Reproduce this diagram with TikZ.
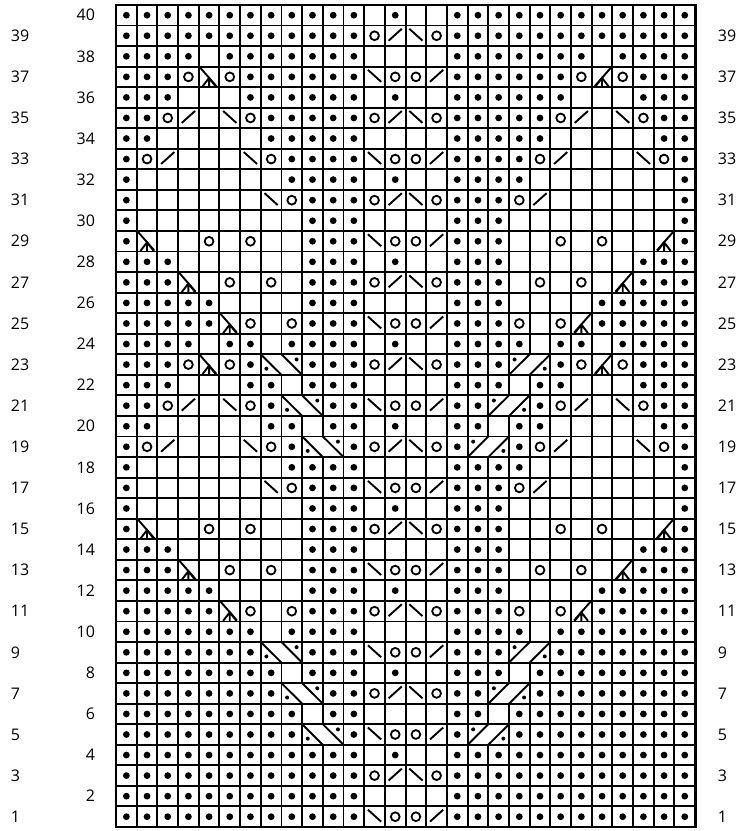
\documentclass[tikz,border=0pt]{standalone}
\usepackage{fontspec}
\setmainfont{Open Sans}
\usepackage{tikz}

\begin{document}
\begin{tikzpicture}[x=20.68pt,y=20.55pt,line width=1.9pt,
  every node/.style={font=\fontsize{16}{18}\selectfont,inner sep=0pt},
  pics/kbox/.style={code={\draw (0,0) rectangle (1,1);}},
  pics/ke/.style={code={\pic {kbox};}},
  pics/kx/.style={code={}},
  pics/kp/.style={code={\pic {kbox}; \fill (0.5,0.5) circle (3.4pt);}},
  pics/ko/.style={code={\pic {kbox}; \draw[line width=1.8pt] (0.5,0.5) circle (4.4pt);}},
  pics/kl/.style={code={\pic {kbox}; \draw (0.18,0.26) -- (0.82,0.84);}},
  pics/kr/.style={code={\pic {kbox}; \draw (0.18,0.84) -- (0.82,0.26);}},
  pics/ka/.style={code={\pic {kbox}; \draw (0.05,0.97) -- (0.85,0.05);
      \draw (0.18,0.03) -- (0.5,0.45) -- (0.82,0.03) (0.5,0.45) -- (0.5,0.03);}},
  pics/kb/.style={code={\pic {kbox}; \draw (0.95,0.97) -- (0.15,0.05);
      \draw (0.18,0.03) -- (0.5,0.45) -- (0.82,0.03) (0.5,0.45) -- (0.5,0.03);}},
  pics/kc/.style={code={\draw (0,0) rectangle (2,1); \draw (0,1) -- (1,0) (1,1) -- (2,0);
      \fill (0.27,0.3) circle (2pt) (1.73,0.75) circle (2pt);}},
  pics/kd/.style={code={\draw (0,0) rectangle (2,1); \draw (0,0) -- (1,1) (1,0) -- (2,1);
      \fill (0.27,0.75) circle (2pt) (1.73,0.3) circle (2pt);}}]
  \useasboundingbox (-5.61,-0.195) rectangle (30.75,40.24);
  \foreach \r/\row in {
    40/{p,p,p,p,p,p,p,p,p,p,p,p,e,p,e,e,p,p,p,p,p,p,p,p,p,p,p,p},
    39/{p,p,p,p,p,p,p,p,p,p,p,p,o,l,r,o,p,p,p,p,p,p,p,p,p,p,p,p},
    38/{p,p,p,p,e,p,p,p,p,p,p,p,e,e,e,e,p,p,p,p,p,p,p,e,p,p,p,p},
    37/{p,p,p,o,a,o,p,p,p,p,p,p,r,o,o,l,p,p,p,p,p,p,o,b,o,p,p,p},
    36/{p,p,p,e,e,e,p,p,p,p,p,p,e,p,e,e,p,p,p,p,p,p,e,e,e,p,p,p},
    35/{p,p,o,l,e,r,o,p,p,p,p,p,o,l,r,o,p,p,p,p,p,o,l,e,r,o,p,p},
    34/{p,p,e,e,e,e,e,p,p,p,p,p,e,e,e,e,p,p,p,p,p,e,e,e,e,e,p,p},
    33/{p,o,l,e,e,e,r,o,p,p,p,p,r,o,o,l,p,p,p,p,o,l,e,e,e,r,o,p},
    32/{p,e,e,e,e,e,e,e,p,p,p,p,e,p,e,e,p,p,p,p,e,e,e,e,e,e,e,p},
    31/{p,e,e,e,e,e,e,r,o,p,p,p,o,l,r,o,p,p,p,o,l,e,e,e,e,e,e,p},
    30/{p,e,e,e,e,e,e,e,e,p,p,p,e,e,e,e,p,p,p,e,e,e,e,e,e,e,e,p},
    29/{p,a,e,e,o,e,o,e,e,p,p,p,r,o,o,l,p,p,p,e,e,o,e,o,e,e,b,p},
    28/{p,p,p,e,e,e,e,e,e,p,p,p,e,p,e,e,p,p,p,e,e,e,e,e,e,p,p,p},
    27/{p,p,p,a,e,o,e,o,e,p,p,p,o,l,r,o,p,p,p,e,o,e,o,e,b,p,p,p},
    26/{p,p,p,p,p,e,e,e,e,p,p,p,e,e,e,e,p,p,p,e,e,e,e,p,p,p,p,p},
    25/{p,p,p,p,p,a,o,e,o,p,p,p,r,o,o,l,p,p,p,o,e,o,b,p,p,p,p,p},
    24/{p,p,p,p,e,p,p,e,p,p,p,p,e,p,e,e,p,p,p,p,e,p,p,e,p,p,p,p},
    23/{p,p,p,o,a,o,p,c,x,p,p,p,o,l,r,o,p,p,p,d,x,p,o,b,o,p,p,p},
    22/{p,p,p,e,e,e,p,p,e,p,p,p,e,e,e,e,p,p,p,e,p,p,e,e,e,p,p,p},
    21/{p,p,o,l,e,r,o,p,c,x,p,p,r,o,o,l,p,p,d,x,p,o,l,e,r,o,p,p},
    20/{p,p,e,e,e,e,e,p,p,e,p,p,e,p,e,e,p,p,e,p,p,e,e,e,e,e,p,p},
    19/{p,o,l,e,e,e,r,o,p,c,x,p,o,l,r,o,p,d,x,p,o,l,e,e,e,r,o,p},
    18/{p,e,e,e,e,e,e,e,p,p,p,p,e,e,e,e,p,p,p,p,e,e,e,e,e,e,e,p},
    17/{p,e,e,e,e,e,e,r,o,p,p,p,r,o,o,l,p,p,p,o,l,e,e,e,e,e,e,p},
    16/{p,e,e,e,e,e,e,e,e,p,p,p,e,p,e,e,p,p,p,e,e,e,e,e,e,e,e,p},
    15/{p,a,e,e,o,e,o,e,e,p,p,p,o,l,r,o,p,p,p,e,e,o,e,o,e,e,b,p},
    14/{p,p,p,e,e,e,e,e,e,p,p,p,e,e,e,e,p,p,p,e,e,e,e,e,e,p,p,p},
    13/{p,p,p,a,e,o,e,o,e,p,p,p,r,o,o,l,p,p,p,e,o,e,o,e,b,p,p,p},
    12/{p,p,p,p,p,e,e,e,e,p,p,p,e,p,e,e,p,p,p,e,e,e,e,p,p,p,p,p},
    11/{p,p,p,p,p,a,o,e,o,p,p,p,o,l,r,o,p,p,p,o,e,o,b,p,p,p,p,p},
    10/{p,p,p,p,p,p,p,e,p,p,p,p,e,e,e,e,p,p,p,p,e,p,p,p,p,p,p,p},
    9/{p,p,p,p,p,p,p,c,x,p,p,p,r,o,o,l,p,p,p,d,x,p,p,p,p,p,p,p},
    8/{p,p,p,p,p,p,p,p,e,p,p,p,e,p,e,e,p,p,p,e,p,p,p,p,p,p,p,p},
    7/{p,p,p,p,p,p,p,p,c,x,p,p,o,l,r,o,p,p,d,x,p,p,p,p,p,p,p,p},
    6/{p,p,p,p,p,p,p,p,p,e,p,p,e,e,e,e,p,p,e,p,p,p,p,p,p,p,p,p},
    5/{p,p,p,p,p,p,p,p,p,c,x,p,r,o,o,l,p,d,x,p,p,p,p,p,p,p,p,p},
    4/{p,p,p,p,p,p,p,p,p,p,p,p,e,p,e,e,p,p,p,p,p,p,p,p,p,p,p,p},
    3/{p,p,p,p,p,p,p,p,p,p,p,p,o,l,r,o,p,p,p,p,p,p,p,p,p,p,p,p},
    2/{p,p,p,p,p,p,p,p,p,p,p,p,e,e,e,e,p,p,p,p,p,p,p,p,p,p,p,p},
    1/{p,p,p,p,p,p,p,p,p,p,p,p,r,o,o,l,p,p,p,p,p,p,p,p,p,p,p,p}}{
    \foreach \s [count=\c] in \row
      \pic at (\c-1,\r-1) {k\s};
  }
  \draw[line width=2.8pt] (0,0) rectangle (28,40);
  \foreach \r in {1,3,...,39}{
    \node[anchor=west] (lo\r) at (-5.13,\r-0.5) {\r};
    \node[anchor=west] (ro\r) at (29.06,\r-0.5) {\r};
  }
  \foreach \r in {2,4,...,40}
    \node[anchor=east] (le\r) at (-0.97,\r-0.5) {\r};
\end{tikzpicture}
\end{document}
